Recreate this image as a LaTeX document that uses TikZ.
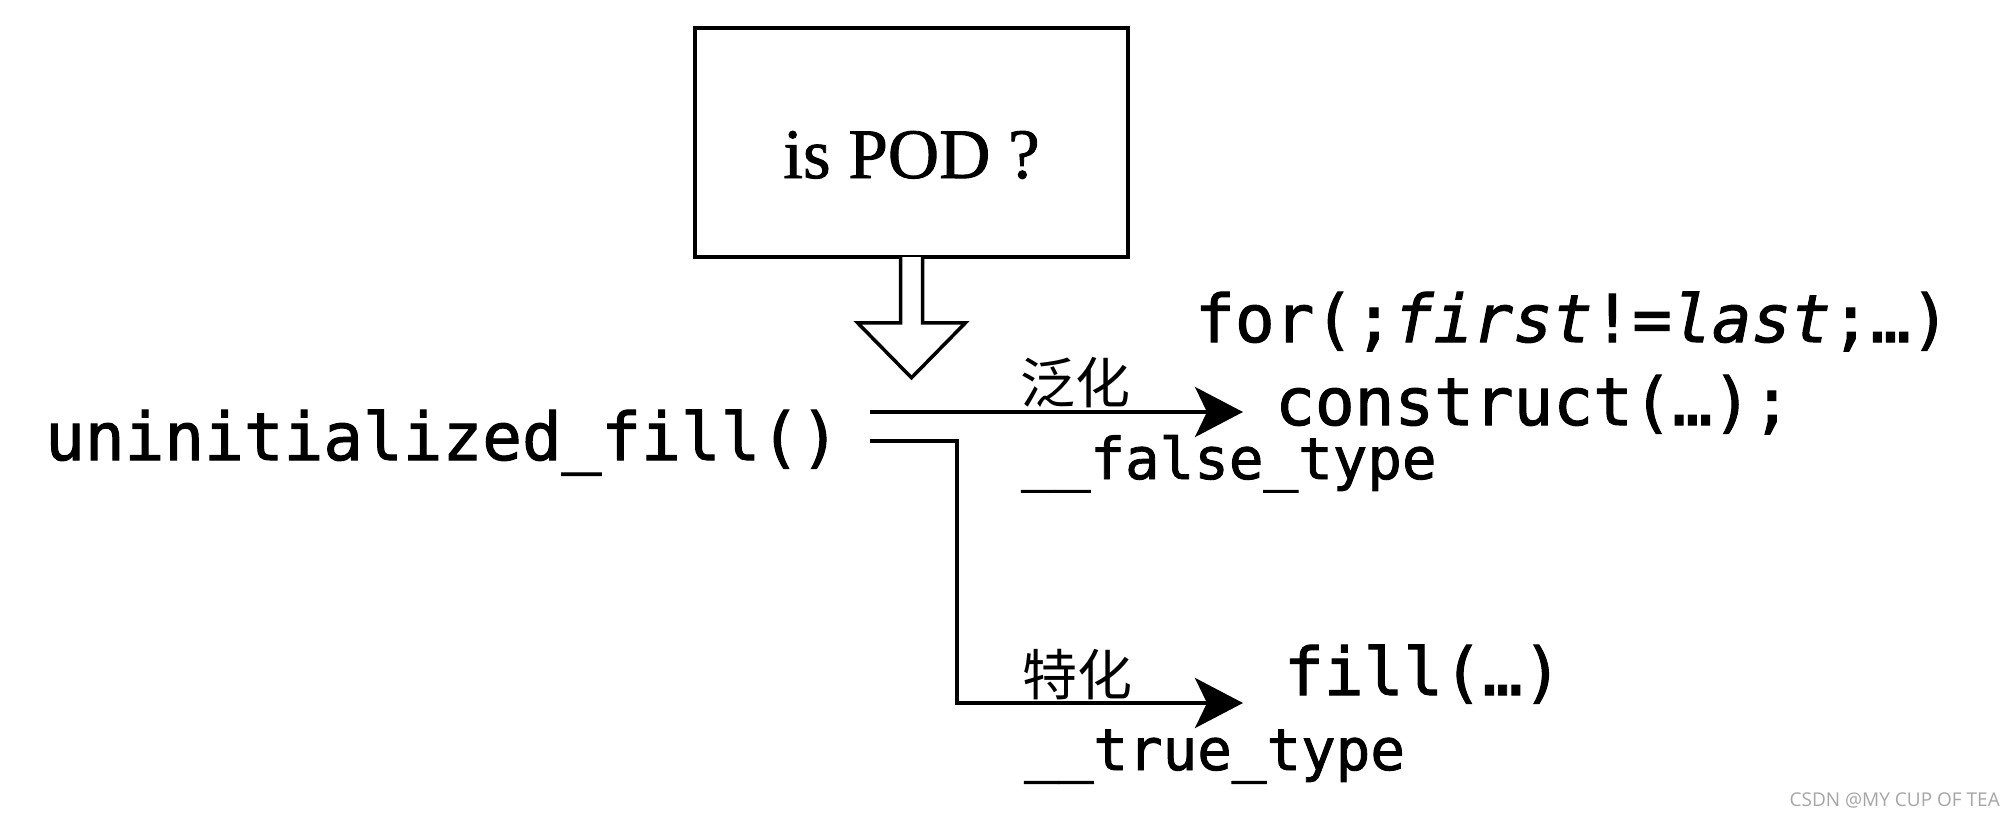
\documentclass[tikz,border=0pt]{standalone}
\usepackage{fontspec}
\setmainfont[FakeBold=1.2]{Liberation Serif}
\setmonofont[FakeBold=1.5]{DejaVu Sans Mono}
\newfontfamily\cjk{Noto Sans CJK SC}
\newfontfamily\wmfont{Open Sans}
\usetikzlibrary{arrows.meta}
\begin{document}
\begin{tikzpicture}[x=1pt,y=-1pt,
  code/.style={font=\ttfamily\fontsize{66}{70}\selectfont, inner sep=0pt, anchor=base west},
  lbl/.style={font=\ttfamily\fontsize{57.5}{60}\selectfont, inner sep=0pt, anchor=base west},
  cn/.style={font=\cjk\fontsize{55}{58}\selectfont, inner sep=0pt, anchor=base west},
  conn/.style={line width=4pt, -{Stealth[length=48pt,width=50pt,inset=12pt]}},
  podbox/.style={draw, line width=3.5pt, minimum width=433pt, minimum height=229pt, inner sep=0pt,
    font=\fontsize{71}{75}\selectfont, text height=71pt, text depth=0pt}
]
\useasboundingbox[fill=white] (0,0) rectangle (2014,820);

\node[podbox] (pod) at (911.5,142.5) {is POD ?};
\draw[line width=3.5pt, fill=white, line join=miter]
  ([xshift=-11pt,yshift=1.75pt]pod.south) -- ++(0,65.75) -- ++(-43,0) -- ++(54,55) -- ++(54,-55) -- ++(-43,0)
  -- ([xshift=11pt,yshift=1.75pt]pod.south);

\node[code] (uf) at (45,460) {uninitialized\_fill()};
\node[code] (forl) at (1195,342) {for(;\textit{first}!=\textit{last};…)};
\node[code] (cons) at (1275,425) {construct(…);};
\node[code] (fillc) at (1284,695) {fill(…)};
\node[lbl] (ft) at (1021,479) {\_\_false\_type};
\node[lbl] (tt) at (1024,770) {\_\_true\_type};
\node[cn] (fh) at (1020,403) {泛化};
\node[cn] (th) at (1022,695) {特化};
\node[font=\wmfont\fontsize{19}{20}\selectfont, text=gray!70, inner sep=0pt, anchor=base east] (wm) at (2000,806) {CSDN @MY CUP OF TEA};

\coordinate (s1) at (870,412);
\coordinate (s2) at (870,441);
\coordinate (k) at (957,703);
\coordinate (t1) at (1243,412);
\coordinate (t2) at (1243,703);
\draw[conn] (s1) -- (t1);
\draw[conn] (s2) -| (k) -- (t2);
\end{tikzpicture}
\end{document}
